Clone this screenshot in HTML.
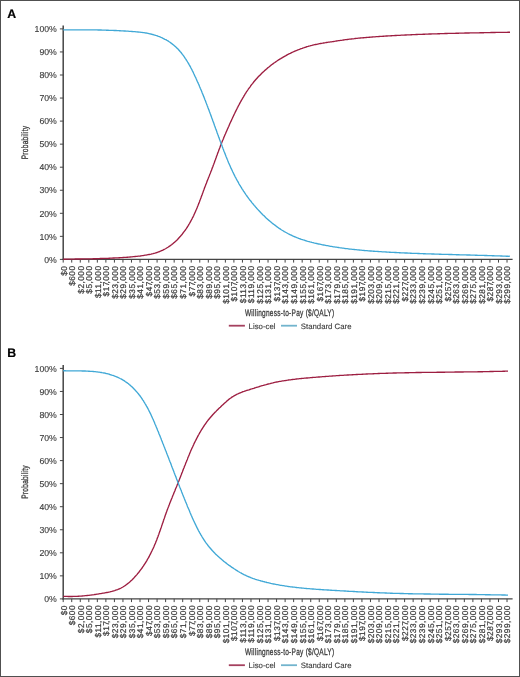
<!DOCTYPE html>
<html><head><meta charset="utf-8"><style>
html,body{margin:0;padding:0;background:#fff;}
body{width:520px;height:677px;overflow:hidden;}
svg{display:block;font-family:"Liberation Sans",sans-serif;will-change:transform;text-rendering:geometricPrecision;}
</style></head><body>
<svg width="520" height="677" viewBox="0 0 520 677">
<rect x="0" y="0" width="520" height="677" fill="#fff"/>
<text x="7.2" y="17.90" font-size="12.3" font-weight="bold" fill="#000" stroke="#000" stroke-width="0.2">A</text>
<line x1="63.2" y1="25.40" x2="63.2" y2="260.00" stroke="#454545" stroke-width="1.5"/>
<g stroke="#454545" stroke-width="1">
<line x1="59.90" y1="259.40" x2="63.2" y2="259.40"/>
<line x1="59.90" y1="236.35" x2="63.2" y2="236.35"/>
<line x1="59.90" y1="213.30" x2="63.2" y2="213.30"/>
<line x1="59.90" y1="190.25" x2="63.2" y2="190.25"/>
<line x1="59.90" y1="167.20" x2="63.2" y2="167.20"/>
<line x1="59.90" y1="144.15" x2="63.2" y2="144.15"/>
<line x1="59.90" y1="121.10" x2="63.2" y2="121.10"/>
<line x1="59.90" y1="98.05" x2="63.2" y2="98.05"/>
<line x1="59.90" y1="75.00" x2="63.2" y2="75.00"/>
<line x1="59.90" y1="51.95" x2="63.2" y2="51.95"/>
<line x1="59.90" y1="28.90" x2="63.2" y2="28.90"/>
</g>
<g font-size="8.7" text-anchor="end" fill="#3a3a3a" stroke="#3a3a3a" stroke-width="0.12">
<text x="56.8" y="262.61">0%</text>
<text x="56.8" y="239.56">10%</text>
<text x="56.8" y="216.51">20%</text>
<text x="56.8" y="193.46">30%</text>
<text x="56.8" y="170.41">40%</text>
<text x="56.8" y="147.36">50%</text>
<text x="56.8" y="124.31">60%</text>
<text x="56.8" y="101.26">70%</text>
<text x="56.8" y="78.21">80%</text>
<text x="56.8" y="55.16">90%</text>
<text x="56.8" y="32.11">100%</text>
</g>
<line x1="62.45" y1="259.40" x2="512.6" y2="259.40" stroke="#454545" stroke-width="1.3"/>
<g stroke="#454545" stroke-width="1">
<line x1="63.20" y1="259.40" x2="63.20" y2="262.60"/>
<line x1="71.73" y1="259.40" x2="71.73" y2="262.60"/>
<line x1="80.27" y1="259.40" x2="80.27" y2="262.60"/>
<line x1="88.81" y1="259.40" x2="88.81" y2="262.60"/>
<line x1="97.34" y1="259.40" x2="97.34" y2="262.60"/>
<line x1="105.88" y1="259.40" x2="105.88" y2="262.60"/>
<line x1="114.41" y1="259.40" x2="114.41" y2="262.60"/>
<line x1="122.95" y1="259.40" x2="122.95" y2="262.60"/>
<line x1="131.48" y1="259.40" x2="131.48" y2="262.60"/>
<line x1="140.01" y1="259.40" x2="140.01" y2="262.60"/>
<line x1="148.55" y1="259.40" x2="148.55" y2="262.60"/>
<line x1="157.09" y1="259.40" x2="157.09" y2="262.60"/>
<line x1="165.62" y1="259.40" x2="165.62" y2="262.60"/>
<line x1="174.16" y1="259.40" x2="174.16" y2="262.60"/>
<line x1="182.69" y1="259.40" x2="182.69" y2="262.60"/>
<line x1="191.23" y1="259.40" x2="191.23" y2="262.60"/>
<line x1="199.76" y1="259.40" x2="199.76" y2="262.60"/>
<line x1="208.30" y1="259.40" x2="208.30" y2="262.60"/>
<line x1="216.83" y1="259.40" x2="216.83" y2="262.60"/>
<line x1="225.37" y1="259.40" x2="225.37" y2="262.60"/>
<line x1="233.90" y1="259.40" x2="233.90" y2="262.60"/>
<line x1="242.44" y1="259.40" x2="242.44" y2="262.60"/>
<line x1="250.97" y1="259.40" x2="250.97" y2="262.60"/>
<line x1="259.50" y1="259.40" x2="259.50" y2="262.60"/>
<line x1="268.04" y1="259.40" x2="268.04" y2="262.60"/>
<line x1="276.57" y1="259.40" x2="276.57" y2="262.60"/>
<line x1="285.11" y1="259.40" x2="285.11" y2="262.60"/>
<line x1="293.64" y1="259.40" x2="293.64" y2="262.60"/>
<line x1="302.18" y1="259.40" x2="302.18" y2="262.60"/>
<line x1="310.72" y1="259.40" x2="310.72" y2="262.60"/>
<line x1="319.25" y1="259.40" x2="319.25" y2="262.60"/>
<line x1="327.78" y1="259.40" x2="327.78" y2="262.60"/>
<line x1="336.32" y1="259.40" x2="336.32" y2="262.60"/>
<line x1="344.86" y1="259.40" x2="344.86" y2="262.60"/>
<line x1="353.39" y1="259.40" x2="353.39" y2="262.60"/>
<line x1="361.93" y1="259.40" x2="361.93" y2="262.60"/>
<line x1="370.46" y1="259.40" x2="370.46" y2="262.60"/>
<line x1="379.00" y1="259.40" x2="379.00" y2="262.60"/>
<line x1="387.53" y1="259.40" x2="387.53" y2="262.60"/>
<line x1="396.06" y1="259.40" x2="396.06" y2="262.60"/>
<line x1="404.60" y1="259.40" x2="404.60" y2="262.60"/>
<line x1="413.13" y1="259.40" x2="413.13" y2="262.60"/>
<line x1="421.67" y1="259.40" x2="421.67" y2="262.60"/>
<line x1="430.20" y1="259.40" x2="430.20" y2="262.60"/>
<line x1="438.74" y1="259.40" x2="438.74" y2="262.60"/>
<line x1="447.27" y1="259.40" x2="447.27" y2="262.60"/>
<line x1="455.81" y1="259.40" x2="455.81" y2="262.60"/>
<line x1="464.34" y1="259.40" x2="464.34" y2="262.60"/>
<line x1="472.88" y1="259.40" x2="472.88" y2="262.60"/>
<line x1="481.42" y1="259.40" x2="481.42" y2="262.60"/>
<line x1="489.95" y1="259.40" x2="489.95" y2="262.60"/>
<line x1="498.49" y1="259.40" x2="498.49" y2="262.60"/>
<line x1="507.02" y1="259.40" x2="507.02" y2="262.60"/>
</g>
<g font-size="8.3" letter-spacing="0.45" text-anchor="end" fill="#3a3a3a" stroke="#3a3a3a" stroke-width="0.22">
<text transform="translate(66.52,265.55) rotate(-90)">$0</text>
<text transform="translate(75.06,265.55) rotate(-90)">$600</text>
<text transform="translate(83.59,265.55) rotate(-90)">$2,000</text>
<text transform="translate(92.13,265.55) rotate(-90)">$5,000</text>
<text transform="translate(100.66,265.55) rotate(-90)">$11,000</text>
<text transform="translate(109.20,265.55) rotate(-90)">$17<tspan dx="-2.3">,000</tspan></text>
<text transform="translate(117.73,265.55) rotate(-90)">$23,000</text>
<text transform="translate(126.27,265.55) rotate(-90)">$29,000</text>
<text transform="translate(134.80,265.55) rotate(-90)">$35,000</text>
<text transform="translate(143.34,265.55) rotate(-90)">$41,000</text>
<text transform="translate(151.87,265.55) rotate(-90)">$47<tspan dx="-2.3">,000</tspan></text>
<text transform="translate(160.41,265.55) rotate(-90)">$53,000</text>
<text transform="translate(168.94,265.55) rotate(-90)">$59,000</text>
<text transform="translate(177.48,265.55) rotate(-90)">$65,000</text>
<text transform="translate(186.01,265.55) rotate(-90)">$71,000</text>
<text transform="translate(194.55,265.55) rotate(-90)">$77<tspan dx="-2.3">,000</tspan></text>
<text transform="translate(203.08,265.55) rotate(-90)">$83,000</text>
<text transform="translate(211.62,265.55) rotate(-90)">$89,000</text>
<text transform="translate(220.15,265.55) rotate(-90)">$95,000</text>
<text transform="translate(228.69,265.55) rotate(-90)">$101,000</text>
<text transform="translate(237.22,265.55) rotate(-90)">$107<tspan dx="-2.3">,000</tspan></text>
<text transform="translate(245.76,265.55) rotate(-90)">$113,000</text>
<text transform="translate(254.29,265.55) rotate(-90)">$119,000</text>
<text transform="translate(262.83,265.55) rotate(-90)">$125,000</text>
<text transform="translate(271.36,265.55) rotate(-90)">$131,000</text>
<text transform="translate(279.90,265.55) rotate(-90)">$137<tspan dx="-2.3">,000</tspan></text>
<text transform="translate(288.43,265.55) rotate(-90)">$143,000</text>
<text transform="translate(296.97,265.55) rotate(-90)">$149,000</text>
<text transform="translate(305.50,265.55) rotate(-90)">$155,000</text>
<text transform="translate(314.04,265.55) rotate(-90)">$161,000</text>
<text transform="translate(322.57,265.55) rotate(-90)">$167<tspan dx="-2.3">,000</tspan></text>
<text transform="translate(331.11,265.55) rotate(-90)">$173,000</text>
<text transform="translate(339.64,265.55) rotate(-90)">$179,000</text>
<text transform="translate(348.18,265.55) rotate(-90)">$185,000</text>
<text transform="translate(356.71,265.55) rotate(-90)">$191,000</text>
<text transform="translate(365.25,265.55) rotate(-90)">$197<tspan dx="-2.3">,000</tspan></text>
<text transform="translate(373.78,265.55) rotate(-90)">$203,000</text>
<text transform="translate(382.32,265.55) rotate(-90)">$209,000</text>
<text transform="translate(390.85,265.55) rotate(-90)">$215,000</text>
<text transform="translate(399.39,265.55) rotate(-90)">$221,000</text>
<text transform="translate(407.92,265.55) rotate(-90)">$227<tspan dx="-2.3">,000</tspan></text>
<text transform="translate(416.46,265.55) rotate(-90)">$233,000</text>
<text transform="translate(424.99,265.55) rotate(-90)">$239,000</text>
<text transform="translate(433.53,265.55) rotate(-90)">$245,000</text>
<text transform="translate(442.06,265.55) rotate(-90)">$251,000</text>
<text transform="translate(450.60,265.55) rotate(-90)">$257<tspan dx="-2.3">,000</tspan></text>
<text transform="translate(459.13,265.55) rotate(-90)">$263,000</text>
<text transform="translate(467.67,265.55) rotate(-90)">$269,000</text>
<text transform="translate(476.20,265.55) rotate(-90)">$275,000</text>
<text transform="translate(484.74,265.55) rotate(-90)">$281,000</text>
<text transform="translate(493.27,265.55) rotate(-90)">$287<tspan dx="-2.3">,000</tspan></text>
<text transform="translate(501.81,265.55) rotate(-90)">$293,000</text>
<text transform="translate(510.34,265.55) rotate(-90)">$299,000</text>
</g>
<text transform="translate(27.8,142.50) rotate(-90) scale(0.70,1)" font-size="9.4" letter-spacing="0.38" text-anchor="middle" fill="#3a3a3a" stroke="#3a3a3a" stroke-width="0.3">Probability</text>
<text transform="translate(244.9,315.50) scale(0.68,1)" font-size="9.6" letter-spacing="0.38" fill="#3a3a3a" stroke="#3a3a3a" stroke-width="0.3">Willingness-to-Pay ($/QALY)</text>
<line x1="228.8" y1="325.70" x2="244.9" y2="325.70" stroke="#A5415F" stroke-width="1.8"/>
<text x="248.6" y="328.70" font-size="7.8" fill="#3a3a3a" stroke="#3a3a3a" stroke-width="0.12">Liso-cel</text>
<line x1="281.0" y1="325.70" x2="297.0" y2="325.70" stroke="#72B4CD" stroke-width="1.8"/>
<text x="300.8" y="328.70" font-size="7.8" fill="#3a3a3a" stroke="#3a3a3a" stroke-width="0.12">Standard Care</text>
<path d="M63.2 259.2 64.2 259.2 65.2 259.2 66.2 259.2 67.2 259.1 68.2 259.1 69.2 259.1 70.2 259.1 71.2 259.1 72.2 259.1 73.2 259.1 74.2 259.1 75.2 259.0 76.2 259.0 77.2 259.0 78.2 259.0 79.2 259.0 80.2 259.0 81.2 259.0 82.2 258.9 83.2 258.9 84.2 258.9 85.2 258.9 86.2 258.9 87.2 258.9 88.2 258.8 89.2 258.8 90.2 258.8 91.2 258.8 92.2 258.8 93.2 258.7 94.2 258.7 95.2 258.7 96.2 258.7 97.2 258.6 98.2 258.6 99.2 258.6 100.2 258.5 101.2 258.5 102.2 258.5 103.1 258.4 104.1 258.4 105.1 258.4 106.1 258.3 107.1 258.3 108.1 258.3 109.1 258.2 110.1 258.2 111.1 258.1 112.1 258.1 113.1 258.0 114.1 258.0 115.1 257.9 116.1 257.9 117.1 257.8 118.1 257.8 119.1 257.7 120.1 257.7 121.1 257.6 122.1 257.6 123.1 257.5 124.1 257.4 125.1 257.4 126.1 257.3 127.1 257.2 128.1 257.2 129.1 257.1 130.1 257.0 131.1 256.9 132.1 256.8 133.1 256.7 134.1 256.6 135.1 256.5 136.1 256.4 137.1 256.3 138.1 256.2 139.1 256.1 140.1 256.0 141.1 255.8 142.1 255.7 143.1 255.6 144.1 255.4 145.1 255.2 146.1 255.1 147.1 254.9 148.1 254.7 149.1 254.5 150.1 254.3 151.1 254.1 152.0 253.8 153.0 253.6 154.0 253.3 154.9 253.1 155.9 252.8 156.9 252.5 157.8 252.2 158.7 251.8 159.7 251.5 160.6 251.1 161.5 250.7 162.4 250.3 163.3 249.9 164.2 249.4 165.0 249.0 165.9 248.5 166.7 248.0 167.5 247.5 168.4 247.0 169.2 246.4 170.0 245.9 170.8 245.3 171.6 244.7 172.3 244.1 173.1 243.5 173.9 242.8 174.6 242.2 175.3 241.5 176.0 240.9 176.8 240.2 177.5 239.5 178.2 238.8 178.8 238.0 179.5 237.3 180.2 236.6 180.8 235.8 181.5 235.1 182.1 234.3 182.7 233.5 183.3 232.7 183.9 231.9 184.5 231.1 185.1 230.3 185.7 229.5 186.3 228.6 186.8 227.8 187.4 227.0 187.9 226.1 188.4 225.3 188.9 224.4 189.5 223.5 190.0 222.7 190.4 221.8 190.9 220.9 191.4 220.0 191.9 219.1 192.3 218.2 192.8 217.4 193.2 216.5 193.7 215.6 194.1 214.6 194.5 213.7 194.9 212.8 195.3 211.9 195.7 211.0 196.1 210.1 196.5 209.2 196.9 208.2 197.3 207.3 197.6 206.4 198.0 205.5 198.4 204.5 198.8 203.6 199.1 202.7 199.5 201.7 199.8 200.8 200.2 199.8 200.5 198.9 200.9 198.0 201.2 197.0 201.6 196.1 201.9 195.2 202.3 194.2 202.6 193.3 203.0 192.3 203.3 191.4 203.6 190.5 204.0 189.5 204.3 188.6 204.7 187.6 205.0 186.7 205.4 185.8 205.7 184.8 206.1 183.9 206.5 183.0 206.8 182.0 207.2 181.1 207.5 180.2 207.9 179.2 208.3 178.3 208.6 177.4 209.0 176.5 209.4 175.5 209.7 174.6 210.1 173.7 210.5 172.7 210.8 171.8 211.2 170.9 211.6 170.0 211.9 169.0 212.3 168.1 212.6 167.2 213.0 166.2 213.3 165.3 213.7 164.4 214.0 163.4 214.4 162.5 214.7 161.5 215.0 160.6 215.4 159.7 215.7 158.7 216.1 157.8 216.4 156.8 216.7 155.9 217.1 155.0 217.4 154.0 217.8 153.1 218.1 152.2 218.5 151.2 218.8 150.3 219.1 149.4 219.5 148.4 219.9 147.5 220.2 146.6 220.6 145.6 220.9 144.7 221.3 143.8 221.7 142.9 222.0 141.9 222.4 141.0 222.8 140.1 223.2 139.2 223.6 138.2 223.9 137.3 224.3 136.4 224.7 135.5 225.1 134.6 225.5 133.7 225.9 132.7 226.3 131.8 226.7 130.9 227.1 130.0 227.5 129.1 227.9 128.2 228.3 127.3 228.7 126.4 229.1 125.4 229.5 124.5 229.9 123.6 230.3 122.7 230.7 121.8 231.2 120.9 231.6 120.0 232.0 119.1 232.4 118.2 232.8 117.2 233.3 116.3 233.7 115.4 234.1 114.5 234.6 113.6 235.0 112.7 235.4 111.8 235.9 110.9 236.3 110.0 236.8 109.1 237.2 108.2 237.7 107.3 238.1 106.4 238.6 105.5 239.1 104.6 239.5 103.8 240.0 102.9 240.5 102.0 241.0 101.1 241.5 100.2 242.0 99.4 242.5 98.5 243.0 97.6 243.5 96.8 244.0 95.9 244.5 95.1 245.0 94.2 245.6 93.4 246.1 92.5 246.6 91.7 247.2 90.9 247.8 90.0 248.3 89.2 248.9 88.4 249.5 87.6 250.1 86.8 250.6 86.0 251.2 85.2 251.8 84.4 252.5 83.6 253.1 82.8 253.7 82.0 254.3 81.3 255.0 80.5 255.6 79.8 256.3 79.0 257.0 78.3 257.6 77.5 258.3 76.8 259.0 76.1 259.7 75.4 260.4 74.7 261.1 74.0 261.8 73.3 262.5 72.6 263.2 71.9 264.0 71.2 264.7 70.5 265.5 69.9 266.2 69.2 267.0 68.6 267.7 67.9 268.5 67.3 269.3 66.7 270.1 66.0 270.8 65.4 271.6 64.8 272.4 64.2 273.2 63.6 274.0 63.0 274.8 62.5 275.7 61.9 276.5 61.3 277.3 60.8 278.1 60.2 279.0 59.7 279.8 59.1 280.7 58.6 281.5 58.1 282.4 57.6 283.2 57.1 284.1 56.6 285.0 56.1 285.9 55.6 286.7 55.1 287.6 54.6 288.5 54.2 289.4 53.7 290.3 53.3 291.2 52.8 292.1 52.4 293.0 52.0 293.9 51.6 294.8 51.2 295.7 50.8 296.7 50.4 297.6 50.0 298.5 49.7 299.5 49.3 300.4 48.9 301.3 48.6 302.3 48.3 303.2 47.9 304.2 47.6 305.1 47.3 306.1 47.0 307.0 46.7 308.0 46.4 308.9 46.1 309.9 45.9 310.9 45.6 311.8 45.4 312.8 45.1 313.8 44.9 314.7 44.7 315.7 44.5 316.7 44.3 317.7 44.1 318.7 43.9 319.6 43.7 320.6 43.5 321.6 43.3 322.6 43.2 323.6 43.0 324.6 42.8 325.5 42.7 326.5 42.5 327.5 42.4 328.5 42.2 329.5 42.1 330.5 41.9 331.5 41.8 332.5 41.6 333.5 41.5 334.4 41.3 335.4 41.2 336.4 41.0 337.4 40.9 338.4 40.7 339.4 40.6 340.4 40.4 341.4 40.3 342.4 40.2 343.4 40.0 344.3 39.9 345.3 39.7 346.3 39.6 347.3 39.5 348.3 39.4 349.3 39.2 350.3 39.1 351.3 39.0 352.3 38.9 353.3 38.8 354.3 38.7 355.2 38.5 356.2 38.4 357.2 38.3 358.2 38.2 359.2 38.1 360.2 38.0 361.2 37.9 362.2 37.8 363.2 37.7 364.2 37.7 365.2 37.6 366.2 37.5 367.2 37.4 368.2 37.3 369.2 37.2 370.2 37.2 371.2 37.1 372.2 37.0 373.2 36.9 374.2 36.8 375.1 36.8 376.1 36.7 377.1 36.6 378.1 36.6 379.1 36.5 380.1 36.4 381.1 36.4 382.1 36.3 383.1 36.2 384.1 36.2 385.1 36.1 386.1 36.0 387.1 36.0 388.1 35.9 389.1 35.9 390.1 35.8 391.1 35.7 392.1 35.7 393.1 35.6 394.1 35.6 395.1 35.5 396.1 35.5 397.1 35.4 398.1 35.4 399.1 35.3 400.1 35.3 401.1 35.2 402.1 35.1 403.1 35.1 404.1 35.1 405.1 35.0 406.1 35.0 407.1 34.9 408.1 34.9 409.1 34.8 410.1 34.8 411.1 34.7 412.1 34.7 413.1 34.6 414.1 34.6 415.1 34.6 416.1 34.5 417.1 34.5 418.1 34.4 419.1 34.4 420.1 34.4 421.1 34.3 422.1 34.3 423.1 34.2 424.1 34.2 425.1 34.2 426.1 34.1 427.0 34.1 428.0 34.1 429.0 34.0 430.0 34.0 431.0 34.0 432.0 33.9 433.0 33.9 434.0 33.9 435.0 33.8 436.0 33.8 437.0 33.8 438.0 33.7 439.0 33.7 440.0 33.7 441.0 33.6 442.0 33.6 443.0 33.6 444.0 33.6 445.0 33.5 446.0 33.5 447.0 33.5 448.0 33.4 449.0 33.4 450.0 33.4 451.0 33.4 452.0 33.3 453.0 33.3 454.0 33.3 455.0 33.3 456.0 33.2 457.0 33.2 458.0 33.2 459.0 33.2 460.0 33.1 461.0 33.1 462.0 33.1 463.0 33.1 464.0 33.1 465.0 33.0 466.0 33.0 467.0 33.0 468.0 33.0 469.0 33.0 470.0 32.9 471.0 32.9 472.0 32.9 473.0 32.9 474.0 32.9 475.0 32.8 476.0 32.8 477.0 32.8 478.0 32.8 479.0 32.8 480.0 32.7 481.0 32.7 482.0 32.7 483.0 32.7 484.0 32.7 485.0 32.6 486.0 32.6 487.0 32.6 488.0 32.6 489.0 32.6 490.0 32.6 491.0 32.5 492.0 32.5 493.0 32.5 494.0 32.5 495.0 32.5 496.0 32.4 497.0 32.4 498.0 32.4 499.0 32.4 500.0 32.4 501.0 32.4 502.0 32.3 503.0 32.3 504.0 32.3 505.0 32.3 506.0 32.3 507.0 32.3 508.0 32.2 509.0 32.2 510.0 32.2" fill="none" stroke="#9D1E41" stroke-width="1.35" stroke-linejoin="round"/>
<path d="M63.2 29.8 64.2 29.8 65.2 29.8 66.2 29.8 67.2 29.8 68.2 29.8 69.2 29.8 70.2 29.8 71.2 29.8 72.2 29.8 73.2 29.8 74.2 29.8 75.2 29.8 76.2 29.8 77.2 29.8 78.2 29.8 79.2 29.8 80.2 29.8 81.2 29.8 82.2 29.8 83.2 29.8 84.2 29.8 85.2 29.8 86.2 29.8 87.2 29.8 88.2 29.8 89.2 29.8 90.2 29.8 91.2 29.8 92.2 29.9 93.2 29.9 94.2 29.9 95.2 29.9 96.2 29.9 97.1 29.9 98.1 30.0 99.1 30.0 100.1 30.0 101.1 30.0 102.1 30.1 103.1 30.1 104.1 30.1 105.1 30.1 106.1 30.2 107.1 30.2 108.1 30.2 109.1 30.3 110.1 30.3 111.1 30.3 112.1 30.4 113.1 30.4 114.1 30.5 115.1 30.5 116.1 30.5 117.1 30.6 118.1 30.6 119.1 30.7 120.1 30.7 121.1 30.8 122.1 30.8 123.1 30.9 124.1 31.0 125.1 31.0 126.1 31.1 127.1 31.1 128.1 31.2 129.1 31.3 130.0 31.3 131.0 31.4 132.0 31.5 133.0 31.6 134.0 31.6 135.0 31.7 136.0 31.8 137.0 31.9 138.0 32.0 139.0 32.1 140.0 32.2 141.0 32.3 142.0 32.4 143.0 32.6 144.0 32.7 145.0 32.9 146.0 33.0 147.0 33.2 148.0 33.4 148.9 33.6 149.9 33.8 150.9 34.0 151.9 34.3 152.8 34.5 153.8 34.8 154.8 35.1 155.7 35.4 156.7 35.7 157.6 36.0 158.5 36.4 159.5 36.7 160.4 37.1 161.3 37.5 162.2 37.9 163.1 38.4 164.0 38.8 164.9 39.3 165.8 39.7 166.7 40.2 167.5 40.7 168.4 41.2 169.2 41.8 170.0 42.3 170.8 42.9 171.6 43.5 172.4 44.1 173.2 44.7 173.9 45.3 174.6 45.9 175.4 46.6 176.1 47.2 176.8 47.9 177.5 48.6 178.2 49.3 178.8 50.0 179.5 50.8 180.1 51.5 180.8 52.2 181.4 53.0 182.0 53.8 182.6 54.6 183.2 55.3 183.8 56.1 184.3 56.9 184.9 57.8 185.4 58.6 186.0 59.4 186.5 60.3 187.1 61.1 187.6 62.0 188.1 62.8 188.6 63.7 189.1 64.6 189.6 65.4 190.1 66.3 190.6 67.2 191.0 68.1 191.5 69.0 192.0 69.9 192.4 70.8 192.9 71.7 193.3 72.6 193.7 73.5 194.2 74.5 194.6 75.4 195.0 76.3 195.5 77.2 195.9 78.1 196.3 79.1 196.7 80.0 197.1 80.9 197.5 81.8 198.0 82.7 198.4 83.7 198.8 84.6 199.2 85.5 199.5 86.4 199.9 87.3 200.3 88.3 200.7 89.2 201.1 90.1 201.5 91.0 201.9 92.0 202.2 92.9 202.6 93.8 203.0 94.7 203.4 95.7 203.7 96.6 204.1 97.5 204.5 98.5 204.8 99.4 205.2 100.3 205.6 101.2 205.9 102.2 206.3 103.1 206.6 104.0 207.0 104.9 207.3 105.9 207.7 106.8 208.0 107.7 208.4 108.7 208.7 109.6 209.1 110.5 209.4 111.5 209.8 112.4 210.1 113.3 210.5 114.3 210.8 115.2 211.1 116.1 211.5 117.0 211.8 118.0 212.2 118.9 212.5 119.8 212.8 120.8 213.2 121.7 213.5 122.6 213.9 123.6 214.2 124.5 214.5 125.5 214.9 126.4 215.2 127.3 215.5 128.3 215.9 129.2 216.2 130.1 216.6 131.1 216.9 132.0 217.2 132.9 217.6 133.9 217.9 134.8 218.3 135.7 218.6 136.7 218.9 137.6 219.3 138.6 219.6 139.5 220.0 140.4 220.3 141.4 220.7 142.3 221.0 143.2 221.4 144.2 221.7 145.1 222.1 146.1 222.4 147.0 222.8 147.9 223.1 148.9 223.5 149.8 223.8 150.7 224.2 151.7 224.6 152.6 224.9 153.6 225.3 154.5 225.7 155.4 226.0 156.4 226.4 157.3 226.8 158.2 227.2 159.2 227.6 160.1 227.9 161.0 228.3 161.9 228.7 162.9 229.1 163.8 229.5 164.7 229.9 165.6 230.3 166.5 230.7 167.4 231.1 168.4 231.6 169.3 232.0 170.2 232.4 171.1 232.8 172.0 233.3 172.9 233.7 173.8 234.1 174.7 234.6 175.6 235.0 176.5 235.5 177.4 236.0 178.2 236.4 179.1 236.9 180.0 237.4 180.9 237.9 181.7 238.4 182.6 238.8 183.5 239.3 184.3 239.8 185.2 240.4 186.0 240.9 186.9 241.4 187.7 241.9 188.6 242.4 189.4 243.0 190.2 243.5 191.1 244.1 191.9 244.6 192.7 245.2 193.5 245.7 194.3 246.3 195.2 246.9 196.0 247.5 196.8 248.1 197.6 248.6 198.4 249.2 199.2 249.8 200.0 250.5 200.7 251.1 201.5 251.7 202.3 252.3 203.1 252.9 203.8 253.6 204.6 254.2 205.4 254.9 206.1 255.5 206.9 256.2 207.6 256.8 208.4 257.5 209.1 258.2 209.9 258.8 210.6 259.5 211.3 260.2 212.0 260.9 212.8 261.6 213.5 262.3 214.2 263.0 214.9 263.8 215.6 264.5 216.3 265.2 217.0 265.9 217.7 266.7 218.4 267.4 219.1 268.2 219.7 268.9 220.4 269.7 221.0 270.5 221.7 271.2 222.3 272.0 223.0 272.8 223.6 273.6 224.2 274.4 224.8 275.2 225.4 276.0 226.0 276.8 226.6 277.6 227.2 278.4 227.8 279.2 228.4 280.1 228.9 280.9 229.5 281.7 230.0 282.6 230.5 283.4 231.0 284.3 231.6 285.1 232.0 286.0 232.5 286.9 233.0 287.8 233.5 288.6 233.9 289.5 234.4 290.4 234.8 291.3 235.2 292.2 235.7 293.1 236.1 294.0 236.5 294.9 236.8 295.8 237.2 296.8 237.6 297.7 237.9 298.6 238.3 299.5 238.6 300.5 239.0 301.4 239.3 302.4 239.6 303.3 239.9 304.3 240.2 305.2 240.5 306.2 240.8 307.1 241.1 308.1 241.4 309.0 241.6 310.0 241.9 311.0 242.1 311.9 242.4 312.9 242.6 313.9 242.9 314.8 243.1 315.8 243.3 316.8 243.5 317.8 243.8 318.7 244.0 319.7 244.2 320.7 244.4 321.7 244.6 322.6 244.8 323.6 245.0 324.6 245.2 325.6 245.4 326.6 245.6 327.5 245.7 328.5 245.9 329.5 246.1 330.5 246.3 331.5 246.4 332.5 246.6 333.4 246.8 334.4 246.9 335.4 247.1 336.4 247.2 337.4 247.4 338.4 247.5 339.4 247.7 340.4 247.8 341.3 247.9 342.3 248.1 343.3 248.2 344.3 248.3 345.3 248.5 346.3 248.6 347.3 248.7 348.3 248.8 349.3 249.0 350.2 249.1 351.2 249.2 352.2 249.3 353.2 249.4 354.2 249.5 355.2 249.6 356.2 249.7 357.2 249.8 358.2 249.9 359.2 250.0 360.2 250.1 361.2 250.2 362.2 250.3 363.2 250.4 364.1 250.5 365.1 250.6 366.1 250.6 367.1 250.7 368.1 250.8 369.1 250.9 370.1 251.0 371.1 251.0 372.1 251.1 373.1 251.2 374.1 251.2 375.1 251.3 376.1 251.4 377.1 251.4 378.1 251.5 379.1 251.6 380.1 251.6 381.1 251.7 382.1 251.8 383.1 251.8 384.1 251.9 385.1 251.9 386.1 252.0 387.1 252.1 388.1 252.1 389.1 252.2 390.0 252.2 391.0 252.3 392.0 252.3 393.0 252.4 394.0 252.4 395.0 252.5 396.0 252.5 397.0 252.6 398.0 252.6 399.0 252.7 400.0 252.7 401.0 252.8 402.0 252.8 403.0 252.9 404.0 252.9 405.0 253.0 406.0 253.0 407.0 253.0 408.0 253.1 409.0 253.1 410.0 253.2 411.0 253.2 412.0 253.3 413.0 253.3 414.0 253.3 415.0 253.4 416.0 253.4 417.0 253.4 418.0 253.5 419.0 253.5 420.0 253.6 421.0 253.6 422.0 253.6 423.0 253.7 424.0 253.7 425.0 253.7 426.0 253.8 427.0 253.8 428.0 253.8 429.0 253.9 430.0 253.9 431.0 253.9 431.9 254.0 432.9 254.0 433.9 254.0 434.9 254.1 435.9 254.1 436.9 254.1 437.9 254.1 438.9 254.2 439.9 254.2 440.9 254.2 441.9 254.3 442.9 254.3 443.9 254.3 444.9 254.4 445.9 254.4 446.9 254.4 447.9 254.4 448.9 254.5 449.9 254.5 450.9 254.5 451.9 254.5 452.9 254.6 453.9 254.6 454.9 254.6 455.9 254.7 456.9 254.7 457.9 254.7 458.9 254.7 459.9 254.8 460.9 254.8 461.9 254.8 462.9 254.8 463.9 254.9 464.9 254.9 465.9 254.9 466.9 255.0 467.9 255.0 468.9 255.0 469.9 255.0 470.9 255.1 471.9 255.1 472.9 255.1 473.9 255.1 474.9 255.2 475.9 255.2 476.9 255.2 477.9 255.3 478.9 255.3 479.9 255.3 480.9 255.3 481.9 255.4 482.9 255.4 483.9 255.4 484.8 255.5 485.8 255.5 486.8 255.5 487.8 255.6 488.8 255.6 489.8 255.6 490.8 255.6 491.8 255.7 492.8 255.7 493.8 255.7 494.8 255.8 495.8 255.8 496.8 255.8 497.8 255.9 498.8 255.9 499.8 255.9 500.8 256.0 501.8 256.0 502.8 256.1 503.8 256.1 504.8 256.1 505.8 256.2 506.8 256.2 507.8 256.2 508.8 256.3 509.8 256.3" fill="none" stroke="#40A8D6" stroke-width="1.35" stroke-linejoin="round"/>
<text x="7.2" y="357.40" font-size="12.3" font-weight="bold" fill="#000" stroke="#000" stroke-width="0.2">B</text>
<line x1="63.2" y1="364.90" x2="63.2" y2="599.50" stroke="#454545" stroke-width="1.5"/>
<g stroke="#454545" stroke-width="1">
<line x1="59.90" y1="598.90" x2="63.2" y2="598.90"/>
<line x1="59.90" y1="575.85" x2="63.2" y2="575.85"/>
<line x1="59.90" y1="552.80" x2="63.2" y2="552.80"/>
<line x1="59.90" y1="529.75" x2="63.2" y2="529.75"/>
<line x1="59.90" y1="506.70" x2="63.2" y2="506.70"/>
<line x1="59.90" y1="483.65" x2="63.2" y2="483.65"/>
<line x1="59.90" y1="460.60" x2="63.2" y2="460.60"/>
<line x1="59.90" y1="437.55" x2="63.2" y2="437.55"/>
<line x1="59.90" y1="414.50" x2="63.2" y2="414.50"/>
<line x1="59.90" y1="391.45" x2="63.2" y2="391.45"/>
<line x1="59.90" y1="368.40" x2="63.2" y2="368.40"/>
</g>
<g font-size="8.7" text-anchor="end" fill="#3a3a3a" stroke="#3a3a3a" stroke-width="0.12">
<text x="56.8" y="602.11">0%</text>
<text x="56.8" y="579.06">10%</text>
<text x="56.8" y="556.01">20%</text>
<text x="56.8" y="532.96">30%</text>
<text x="56.8" y="509.91">40%</text>
<text x="56.8" y="486.86">50%</text>
<text x="56.8" y="463.81">60%</text>
<text x="56.8" y="440.76">70%</text>
<text x="56.8" y="417.71">80%</text>
<text x="56.8" y="394.66">90%</text>
<text x="56.8" y="371.61">100%</text>
</g>
<line x1="62.45" y1="598.90" x2="512.6" y2="598.90" stroke="#454545" stroke-width="1.3"/>
<g stroke="#454545" stroke-width="1">
<line x1="63.20" y1="598.90" x2="63.20" y2="602.10"/>
<line x1="71.73" y1="598.90" x2="71.73" y2="602.10"/>
<line x1="80.27" y1="598.90" x2="80.27" y2="602.10"/>
<line x1="88.81" y1="598.90" x2="88.81" y2="602.10"/>
<line x1="97.34" y1="598.90" x2="97.34" y2="602.10"/>
<line x1="105.88" y1="598.90" x2="105.88" y2="602.10"/>
<line x1="114.41" y1="598.90" x2="114.41" y2="602.10"/>
<line x1="122.95" y1="598.90" x2="122.95" y2="602.10"/>
<line x1="131.48" y1="598.90" x2="131.48" y2="602.10"/>
<line x1="140.01" y1="598.90" x2="140.01" y2="602.10"/>
<line x1="148.55" y1="598.90" x2="148.55" y2="602.10"/>
<line x1="157.09" y1="598.90" x2="157.09" y2="602.10"/>
<line x1="165.62" y1="598.90" x2="165.62" y2="602.10"/>
<line x1="174.16" y1="598.90" x2="174.16" y2="602.10"/>
<line x1="182.69" y1="598.90" x2="182.69" y2="602.10"/>
<line x1="191.23" y1="598.90" x2="191.23" y2="602.10"/>
<line x1="199.76" y1="598.90" x2="199.76" y2="602.10"/>
<line x1="208.30" y1="598.90" x2="208.30" y2="602.10"/>
<line x1="216.83" y1="598.90" x2="216.83" y2="602.10"/>
<line x1="225.37" y1="598.90" x2="225.37" y2="602.10"/>
<line x1="233.90" y1="598.90" x2="233.90" y2="602.10"/>
<line x1="242.44" y1="598.90" x2="242.44" y2="602.10"/>
<line x1="250.97" y1="598.90" x2="250.97" y2="602.10"/>
<line x1="259.50" y1="598.90" x2="259.50" y2="602.10"/>
<line x1="268.04" y1="598.90" x2="268.04" y2="602.10"/>
<line x1="276.57" y1="598.90" x2="276.57" y2="602.10"/>
<line x1="285.11" y1="598.90" x2="285.11" y2="602.10"/>
<line x1="293.64" y1="598.90" x2="293.64" y2="602.10"/>
<line x1="302.18" y1="598.90" x2="302.18" y2="602.10"/>
<line x1="310.72" y1="598.90" x2="310.72" y2="602.10"/>
<line x1="319.25" y1="598.90" x2="319.25" y2="602.10"/>
<line x1="327.78" y1="598.90" x2="327.78" y2="602.10"/>
<line x1="336.32" y1="598.90" x2="336.32" y2="602.10"/>
<line x1="344.86" y1="598.90" x2="344.86" y2="602.10"/>
<line x1="353.39" y1="598.90" x2="353.39" y2="602.10"/>
<line x1="361.93" y1="598.90" x2="361.93" y2="602.10"/>
<line x1="370.46" y1="598.90" x2="370.46" y2="602.10"/>
<line x1="379.00" y1="598.90" x2="379.00" y2="602.10"/>
<line x1="387.53" y1="598.90" x2="387.53" y2="602.10"/>
<line x1="396.06" y1="598.90" x2="396.06" y2="602.10"/>
<line x1="404.60" y1="598.90" x2="404.60" y2="602.10"/>
<line x1="413.13" y1="598.90" x2="413.13" y2="602.10"/>
<line x1="421.67" y1="598.90" x2="421.67" y2="602.10"/>
<line x1="430.20" y1="598.90" x2="430.20" y2="602.10"/>
<line x1="438.74" y1="598.90" x2="438.74" y2="602.10"/>
<line x1="447.27" y1="598.90" x2="447.27" y2="602.10"/>
<line x1="455.81" y1="598.90" x2="455.81" y2="602.10"/>
<line x1="464.34" y1="598.90" x2="464.34" y2="602.10"/>
<line x1="472.88" y1="598.90" x2="472.88" y2="602.10"/>
<line x1="481.42" y1="598.90" x2="481.42" y2="602.10"/>
<line x1="489.95" y1="598.90" x2="489.95" y2="602.10"/>
<line x1="498.49" y1="598.90" x2="498.49" y2="602.10"/>
<line x1="507.02" y1="598.90" x2="507.02" y2="602.10"/>
</g>
<g font-size="8.3" letter-spacing="0.45" text-anchor="end" fill="#3a3a3a" stroke="#3a3a3a" stroke-width="0.22">
<text transform="translate(66.52,605.05) rotate(-90)">$0</text>
<text transform="translate(75.06,605.05) rotate(-90)">$600</text>
<text transform="translate(83.59,605.05) rotate(-90)">$2,000</text>
<text transform="translate(92.13,605.05) rotate(-90)">$5,000</text>
<text transform="translate(100.66,605.05) rotate(-90)">$11,000</text>
<text transform="translate(109.20,605.05) rotate(-90)">$17<tspan dx="-2.3">,000</tspan></text>
<text transform="translate(117.73,605.05) rotate(-90)">$23,000</text>
<text transform="translate(126.27,605.05) rotate(-90)">$29,000</text>
<text transform="translate(134.80,605.05) rotate(-90)">$35,000</text>
<text transform="translate(143.34,605.05) rotate(-90)">$41,000</text>
<text transform="translate(151.87,605.05) rotate(-90)">$47<tspan dx="-2.3">,000</tspan></text>
<text transform="translate(160.41,605.05) rotate(-90)">$53,000</text>
<text transform="translate(168.94,605.05) rotate(-90)">$59,000</text>
<text transform="translate(177.48,605.05) rotate(-90)">$65,000</text>
<text transform="translate(186.01,605.05) rotate(-90)">$71,000</text>
<text transform="translate(194.55,605.05) rotate(-90)">$77<tspan dx="-2.3">,000</tspan></text>
<text transform="translate(203.08,605.05) rotate(-90)">$83,000</text>
<text transform="translate(211.62,605.05) rotate(-90)">$89,000</text>
<text transform="translate(220.15,605.05) rotate(-90)">$95,000</text>
<text transform="translate(228.69,605.05) rotate(-90)">$101,000</text>
<text transform="translate(237.22,605.05) rotate(-90)">$107<tspan dx="-2.3">,000</tspan></text>
<text transform="translate(245.76,605.05) rotate(-90)">$113,000</text>
<text transform="translate(254.29,605.05) rotate(-90)">$119,000</text>
<text transform="translate(262.83,605.05) rotate(-90)">$125,000</text>
<text transform="translate(271.36,605.05) rotate(-90)">$131,000</text>
<text transform="translate(279.90,605.05) rotate(-90)">$137<tspan dx="-2.3">,000</tspan></text>
<text transform="translate(288.43,605.05) rotate(-90)">$143,000</text>
<text transform="translate(296.97,605.05) rotate(-90)">$149,000</text>
<text transform="translate(305.50,605.05) rotate(-90)">$155,000</text>
<text transform="translate(314.04,605.05) rotate(-90)">$161,000</text>
<text transform="translate(322.57,605.05) rotate(-90)">$167<tspan dx="-2.3">,000</tspan></text>
<text transform="translate(331.11,605.05) rotate(-90)">$173,000</text>
<text transform="translate(339.64,605.05) rotate(-90)">$179,000</text>
<text transform="translate(348.18,605.05) rotate(-90)">$185,000</text>
<text transform="translate(356.71,605.05) rotate(-90)">$191,000</text>
<text transform="translate(365.25,605.05) rotate(-90)">$197<tspan dx="-2.3">,000</tspan></text>
<text transform="translate(373.78,605.05) rotate(-90)">$203,000</text>
<text transform="translate(382.32,605.05) rotate(-90)">$209,000</text>
<text transform="translate(390.85,605.05) rotate(-90)">$215,000</text>
<text transform="translate(399.39,605.05) rotate(-90)">$221,000</text>
<text transform="translate(407.92,605.05) rotate(-90)">$227<tspan dx="-2.3">,000</tspan></text>
<text transform="translate(416.46,605.05) rotate(-90)">$233,000</text>
<text transform="translate(424.99,605.05) rotate(-90)">$239,000</text>
<text transform="translate(433.53,605.05) rotate(-90)">$245,000</text>
<text transform="translate(442.06,605.05) rotate(-90)">$251,000</text>
<text transform="translate(450.60,605.05) rotate(-90)">$257<tspan dx="-2.3">,000</tspan></text>
<text transform="translate(459.13,605.05) rotate(-90)">$263,000</text>
<text transform="translate(467.67,605.05) rotate(-90)">$269,000</text>
<text transform="translate(476.20,605.05) rotate(-90)">$275,000</text>
<text transform="translate(484.74,605.05) rotate(-90)">$281,000</text>
<text transform="translate(493.27,605.05) rotate(-90)">$287<tspan dx="-2.3">,000</tspan></text>
<text transform="translate(501.81,605.05) rotate(-90)">$293,000</text>
<text transform="translate(510.34,605.05) rotate(-90)">$299,000</text>
</g>
<text transform="translate(27.8,482.00) rotate(-90) scale(0.70,1)" font-size="9.4" letter-spacing="0.38" text-anchor="middle" fill="#3a3a3a" stroke="#3a3a3a" stroke-width="0.3">Probability</text>
<text transform="translate(244.9,655.00) scale(0.68,1)" font-size="9.6" letter-spacing="0.38" fill="#3a3a3a" stroke="#3a3a3a" stroke-width="0.3">Willingness-to-Pay ($/QALY)</text>
<line x1="228.8" y1="665.20" x2="244.9" y2="665.20" stroke="#A5415F" stroke-width="1.8"/>
<text x="248.6" y="668.20" font-size="7.8" fill="#3a3a3a" stroke="#3a3a3a" stroke-width="0.12">Liso-cel</text>
<line x1="281.0" y1="665.20" x2="297.0" y2="665.20" stroke="#72B4CD" stroke-width="1.8"/>
<text x="300.8" y="668.20" font-size="7.8" fill="#3a3a3a" stroke="#3a3a3a" stroke-width="0.12">Standard Care</text>
<path d="M63.2 596.3 64.2 596.3 65.2 596.4 66.2 596.4 67.2 596.4 68.2 596.5 69.3 596.5 70.3 596.5 71.3 596.5 72.2 596.5 73.2 596.4 74.2 596.4 75.2 596.4 76.2 596.3 77.2 596.3 78.2 596.2 79.2 596.2 80.2 596.1 81.2 596.1 82.2 596.0 83.1 595.9 84.1 595.8 85.1 595.7 86.1 595.6 87.1 595.5 88.1 595.4 89.1 595.3 90.0 595.2 91.0 595.1 92.0 594.9 93.0 594.8 94.0 594.7 95.0 594.5 96.0 594.4 96.9 594.2 97.9 594.1 98.9 593.9 99.9 593.7 100.9 593.6 101.9 593.4 102.9 593.2 103.9 593.1 104.9 592.9 105.9 592.7 106.9 592.5 107.9 592.3 108.9 592.1 109.9 591.9 110.9 591.6 111.8 591.4 112.8 591.1 113.8 590.8 114.7 590.6 115.7 590.2 116.6 589.9 117.6 589.6 118.5 589.2 119.4 588.8 120.3 588.4 121.2 588.0 122.0 587.5 122.9 587.0 123.7 586.5 124.5 586.0 125.4 585.4 126.2 584.8 126.9 584.2 127.7 583.6 128.5 583.0 129.2 582.4 130.0 581.7 130.7 581.0 131.4 580.4 132.2 579.7 132.9 579.0 133.6 578.3 134.2 577.6 134.9 576.8 135.6 576.1 136.2 575.4 136.9 574.6 137.5 573.8 138.2 573.1 138.8 572.3 139.4 571.5 140.0 570.7 140.6 569.9 141.2 569.1 141.8 568.3 142.4 567.5 142.9 566.7 143.5 565.9 144.0 565.0 144.6 564.2 145.1 563.3 145.7 562.5 146.2 561.6 146.7 560.8 147.2 559.9 147.7 559.0 148.2 558.2 148.7 557.3 149.2 556.4 149.6 555.5 150.1 554.6 150.6 553.7 151.0 552.8 151.4 551.9 151.9 551.0 152.3 550.1 152.7 549.2 153.2 548.3 153.6 547.4 154.0 546.5 154.4 545.5 154.8 544.6 155.2 543.7 155.6 542.8 155.9 541.8 156.3 540.9 156.7 540.0 157.0 539.1 157.4 538.1 157.7 537.2 158.1 536.3 158.4 535.3 158.8 534.4 159.1 533.4 159.4 532.5 159.8 531.6 160.1 530.6 160.4 529.7 160.7 528.8 161.1 527.8 161.4 526.9 161.7 525.9 162.0 525.0 162.3 524.0 162.7 523.1 163.0 522.2 163.3 521.2 163.6 520.3 163.9 519.3 164.3 518.4 164.6 517.5 164.9 516.5 165.2 515.6 165.6 514.6 165.9 513.7 166.2 512.8 166.6 511.8 166.9 510.9 167.2 510.0 167.6 509.0 167.9 508.1 168.3 507.2 168.7 506.2 169.0 505.3 169.4 504.4 169.7 503.4 170.1 502.5 170.5 501.6 170.8 500.7 171.2 499.7 171.6 498.8 172.0 497.9 172.3 496.9 172.7 496.0 173.1 495.1 173.5 494.2 173.8 493.2 174.2 492.3 174.6 491.4 175.0 490.5 175.3 489.5 175.7 488.6 176.1 487.7 176.5 486.8 176.9 485.8 177.2 484.9 177.6 484.0 178.0 483.0 178.4 482.1 178.7 481.2 179.1 480.3 179.5 479.3 179.8 478.4 180.2 477.5 180.6 476.6 180.9 475.6 181.3 474.7 181.6 473.8 182.0 472.8 182.4 471.9 182.7 471.0 183.1 470.1 183.4 469.1 183.8 468.2 184.2 467.3 184.5 466.3 184.9 465.4 185.3 464.5 185.6 463.6 186.0 462.6 186.4 461.7 186.7 460.8 187.1 459.9 187.5 458.9 187.8 458.0 188.2 457.1 188.6 456.2 189.0 455.2 189.4 454.3 189.7 453.4 190.1 452.5 190.5 451.6 190.9 450.6 191.3 449.7 191.7 448.8 192.1 447.9 192.6 447.0 193.0 446.1 193.4 445.2 193.8 444.3 194.2 443.3 194.7 442.4 195.1 441.5 195.6 440.6 196.0 439.8 196.5 438.9 196.9 438.0 197.4 437.1 197.9 436.2 198.3 435.3 198.8 434.5 199.3 433.6 199.8 432.7 200.3 431.9 200.8 431.0 201.3 430.1 201.8 429.3 202.4 428.5 202.9 427.6 203.4 426.8 204.0 426.0 204.5 425.1 205.1 424.3 205.7 423.5 206.3 422.7 206.8 421.9 207.4 421.1 208.0 420.3 208.7 419.5 209.3 418.8 209.9 418.0 210.6 417.2 211.2 416.5 211.9 415.7 212.5 415.0 213.2 414.2 213.9 413.5 214.6 412.8 215.3 412.1 216.0 411.4 216.7 410.6 217.4 409.9 218.1 409.2 218.8 408.5 219.6 407.8 220.3 407.2 221.0 406.5 221.7 405.8 222.5 405.1 223.2 404.4 223.9 403.7 224.7 403.0 225.4 402.4 226.2 401.7 226.9 401.0 227.7 400.4 228.4 399.8 229.2 399.1 230.0 398.5 230.8 398.0 231.6 397.4 232.4 396.8 233.3 396.3 234.1 395.8 235.0 395.3 235.8 394.9 236.7 394.4 237.6 394.0 238.5 393.6 239.4 393.2 240.3 392.8 241.3 392.4 242.2 392.0 243.1 391.7 244.1 391.4 245.0 391.0 246.0 390.7 246.9 390.4 247.9 390.1 248.9 389.8 249.8 389.5 250.8 389.1 251.7 388.9 252.7 388.6 253.7 388.3 254.6 388.0 255.6 387.7 256.5 387.4 257.5 387.1 258.5 386.8 259.4 386.5 260.4 386.2 261.3 385.9 262.3 385.6 263.3 385.4 264.2 385.1 265.2 384.8 266.1 384.6 267.1 384.3 268.1 384.0 269.0 383.8 270.0 383.6 270.9 383.3 271.9 383.1 272.9 382.9 273.8 382.6 274.8 382.4 275.8 382.2 276.8 382.0 277.7 381.8 278.7 381.6 279.7 381.4 280.7 381.3 281.6 381.1 282.6 380.9 283.6 380.8 284.6 380.6 285.6 380.5 286.6 380.3 287.6 380.2 288.5 380.0 289.5 379.9 290.5 379.8 291.5 379.6 292.5 379.5 293.5 379.4 294.5 379.3 295.5 379.1 296.5 379.0 297.5 378.9 298.5 378.8 299.4 378.7 300.4 378.6 301.4 378.5 302.4 378.4 303.4 378.3 304.4 378.2 305.4 378.1 306.4 378.0 307.4 378.0 308.4 377.9 309.4 377.8 310.4 377.7 311.4 377.6 312.4 377.5 313.4 377.4 314.4 377.4 315.4 377.3 316.4 377.2 317.4 377.1 318.4 377.0 319.4 377.0 320.4 376.9 321.4 376.8 322.4 376.7 323.4 376.6 324.4 376.6 325.4 376.5 326.4 376.4 327.4 376.3 328.3 376.3 329.3 376.2 330.3 376.1 331.3 376.1 332.3 376.0 333.3 375.9 334.3 375.8 335.3 375.8 336.3 375.7 337.3 375.6 338.3 375.6 339.3 375.5 340.3 375.4 341.3 375.4 342.3 375.3 343.3 375.3 344.3 375.2 345.3 375.1 346.3 375.1 347.3 375.0 348.3 375.0 349.3 374.9 350.3 374.8 351.3 374.8 352.3 374.7 353.3 374.7 354.3 374.6 355.3 374.6 356.3 374.5 357.2 374.5 358.2 374.4 359.2 374.4 360.2 374.3 361.2 374.3 362.2 374.2 363.2 374.2 364.2 374.1 365.2 374.1 366.2 374.0 367.2 374.0 368.2 373.9 369.2 373.9 370.2 373.8 371.2 373.8 372.2 373.8 373.2 373.7 374.2 373.7 375.2 373.6 376.2 373.6 377.2 373.6 378.2 373.5 379.2 373.5 380.2 373.4 381.2 373.4 382.2 373.4 383.2 373.3 384.2 373.3 385.2 373.3 386.2 373.2 387.2 373.2 388.2 373.2 389.2 373.1 390.2 373.1 391.2 373.1 392.2 373.1 393.2 373.0 394.2 373.0 395.1 373.0 396.1 373.0 397.1 372.9 398.1 372.9 399.1 372.9 400.1 372.9 401.1 372.8 402.1 372.8 403.1 372.8 404.1 372.8 405.1 372.7 406.1 372.7 407.1 372.7 408.1 372.7 409.1 372.7 410.1 372.6 411.1 372.6 412.1 372.6 413.1 372.6 414.1 372.6 415.1 372.6 416.1 372.5 417.1 372.5 418.1 372.5 419.1 372.5 420.1 372.5 421.1 372.5 422.1 372.4 423.1 372.4 424.1 372.4 425.1 372.4 426.1 372.4 427.1 372.4 428.1 372.4 429.1 372.3 430.1 372.3 431.1 372.3 432.1 372.3 433.1 372.3 434.1 372.3 435.1 372.3 436.1 372.3 437.1 372.2 438.1 372.2 439.1 372.2 440.1 372.2 441.1 372.2 442.1 372.2 443.1 372.2 444.1 372.2 445.1 372.2 446.1 372.1 447.1 372.1 448.1 372.1 449.1 372.1 450.1 372.1 451.1 372.1 452.1 372.1 453.1 372.1 454.1 372.1 455.1 372.0 456.1 372.0 457.1 372.0 458.1 372.0 459.1 372.0 460.1 372.0 461.1 372.0 462.1 372.0 463.1 372.0 464.1 371.9 465.1 371.9 466.1 371.9 467.1 371.9 468.1 371.9 469.1 371.9 470.1 371.9 471.1 371.8 472.1 371.8 473.1 371.8 474.1 371.8 475.1 371.8 476.1 371.8 477.1 371.8 478.1 371.7 479.0 371.7 480.0 371.7 481.0 371.7 482.0 371.7 483.0 371.7 484.0 371.6 485.0 371.6 486.0 371.6 487.0 371.6 488.0 371.6 489.0 371.6 490.0 371.5 491.0 371.5 492.0 371.5 493.0 371.5 494.0 371.4 495.0 371.4 496.0 371.4 497.0 371.4 498.0 371.4 499.0 371.3 500.0 371.3 501.0 371.3 502.0 371.3 503.0 371.2 504.0 371.2 505.0 371.2 506.0 371.1 507.0 371.1 508.0 371.1" fill="none" stroke="#9D1E41" stroke-width="1.35" stroke-linejoin="round"/>
<path d="M63.2 370.7 64.2 370.7 65.2 370.7 66.2 370.8 67.1 370.8 68.1 370.8 69.1 370.8 70.1 370.8 71.1 370.8 72.1 370.8 73.1 370.9 74.1 370.9 75.1 370.9 76.1 370.9 77.1 370.9 78.1 370.9 79.1 370.9 80.1 370.9 81.1 370.9 82.2 371.0 83.2 371.0 84.2 371.0 85.2 371.0 86.2 371.1 87.2 371.1 88.2 371.2 89.2 371.2 90.2 371.3 91.2 371.4 92.2 371.4 93.2 371.5 94.2 371.6 95.2 371.7 96.2 371.8 97.2 371.9 98.2 372.1 99.2 372.2 100.2 372.3 101.2 372.5 102.1 372.7 103.1 372.8 104.1 373.0 105.1 373.2 106.1 373.5 107.0 373.7 108.0 373.9 109.0 374.2 109.9 374.5 110.9 374.8 111.8 375.1 112.8 375.4 113.7 375.7 114.7 376.1 115.6 376.4 116.5 376.8 117.4 377.2 118.3 377.6 119.2 378.0 120.1 378.5 121.0 378.9 121.9 379.4 122.7 379.9 123.6 380.4 124.4 380.9 125.2 381.5 126.1 382.1 126.9 382.6 127.7 383.2 128.5 383.8 129.2 384.5 130.0 385.1 130.7 385.7 131.5 386.4 132.2 387.1 132.9 387.8 133.6 388.5 134.3 389.2 135.0 389.9 135.7 390.7 136.4 391.4 137.0 392.2 137.6 392.9 138.3 393.7 138.9 394.5 139.5 395.2 140.1 396.0 140.7 396.8 141.3 397.6 141.8 398.5 142.4 399.3 142.9 400.1 143.5 400.9 144.0 401.8 144.5 402.6 145.0 403.5 145.5 404.3 146.0 405.2 146.5 406.1 147.0 406.9 147.5 407.8 148.0 408.7 148.4 409.6 148.9 410.5 149.3 411.4 149.8 412.3 150.2 413.2 150.7 414.1 151.1 415.0 151.5 415.9 151.9 416.8 152.3 417.7 152.7 418.6 153.2 419.5 153.6 420.5 154.0 421.4 154.4 422.3 154.7 423.2 155.1 424.2 155.5 425.1 155.9 426.0 156.3 427.0 156.7 427.9 157.1 428.8 157.4 429.7 157.8 430.7 158.2 431.6 158.6 432.5 158.9 433.5 159.3 434.4 159.7 435.3 160.1 436.3 160.4 437.2 160.8 438.1 161.2 439.0 161.5 440.0 161.9 440.9 162.3 441.8 162.6 442.7 163.0 443.7 163.4 444.6 163.7 445.5 164.1 446.5 164.5 447.4 164.8 448.3 165.2 449.2 165.5 450.2 165.9 451.1 166.3 452.0 166.6 452.9 167.0 453.9 167.3 454.8 167.7 455.7 168.1 456.7 168.4 457.6 168.8 458.5 169.1 459.4 169.5 460.4 169.8 461.3 170.2 462.2 170.6 463.1 170.9 464.1 171.3 465.0 171.6 465.9 172.0 466.9 172.3 467.8 172.7 468.7 173.1 469.7 173.4 470.6 173.8 471.5 174.1 472.4 174.5 473.4 174.8 474.3 175.2 475.2 175.6 476.2 175.9 477.1 176.3 478.0 176.6 479.0 177.0 479.9 177.4 480.8 177.7 481.8 178.1 482.7 178.4 483.6 178.8 484.6 179.2 485.5 179.5 486.4 179.9 487.4 180.3 488.3 180.6 489.2 181.0 490.1 181.4 491.1 181.7 492.0 182.1 492.9 182.5 493.9 182.8 494.8 183.2 495.7 183.6 496.7 184.0 497.6 184.3 498.5 184.7 499.4 185.1 500.4 185.4 501.3 185.8 502.2 186.2 503.1 186.6 504.1 187.0 505.0 187.3 505.9 187.7 506.9 188.1 507.8 188.5 508.7 188.9 509.6 189.3 510.5 189.7 511.5 190.0 512.4 190.4 513.3 190.8 514.2 191.2 515.2 191.6 516.1 192.0 517.0 192.4 517.9 192.8 518.8 193.2 519.7 193.6 520.6 194.1 521.5 194.5 522.4 194.9 523.3 195.3 524.2 195.8 525.1 196.2 526.0 196.6 526.9 197.1 527.8 197.5 528.7 198.0 529.6 198.4 530.5 198.9 531.3 199.4 532.2 199.9 533.1 200.4 533.9 200.9 534.8 201.4 535.6 201.9 536.5 202.4 537.3 202.9 538.2 203.4 539.0 204.0 539.8 204.5 540.7 205.1 541.5 205.6 542.3 206.2 543.1 206.8 543.9 207.4 544.7 208.0 545.5 208.6 546.2 209.2 547.0 209.9 547.8 210.5 548.5 211.2 549.3 211.8 550.0 212.5 550.8 213.2 551.5 213.9 552.2 214.6 552.9 215.3 553.7 216.0 554.4 216.7 555.1 217.5 555.8 218.2 556.4 218.9 557.1 219.7 557.8 220.5 558.5 221.2 559.1 222.0 559.8 222.8 560.4 223.5 561.1 224.3 561.7 225.1 562.3 225.9 562.9 226.7 563.5 227.5 564.2 228.3 564.8 229.1 565.4 230.0 565.9 230.8 566.5 231.6 567.1 232.4 567.7 233.3 568.2 234.1 568.8 234.9 569.3 235.8 569.9 236.6 570.4 237.4 570.9 238.3 571.5 239.2 572.0 240.0 572.5 240.9 572.9 241.7 573.4 242.6 573.9 243.5 574.3 244.4 574.8 245.3 575.2 246.2 575.7 247.1 576.1 248.0 576.5 248.9 576.8 249.8 577.2 250.7 577.6 251.6 577.9 252.6 578.3 253.5 578.6 254.5 578.9 255.4 579.3 256.4 579.6 257.3 579.9 258.3 580.1 259.2 580.4 260.2 580.7 261.1 581.0 262.1 581.2 263.1 581.5 264.0 581.7 265.0 582.0 266.0 582.2 266.9 582.5 267.9 582.7 268.9 582.9 269.8 583.1 270.8 583.4 271.8 583.6 272.8 583.8 273.7 584.0 274.7 584.2 275.7 584.4 276.7 584.6 277.7 584.7 278.6 584.9 279.6 585.1 280.6 585.3 281.6 585.4 282.6 585.6 283.5 585.7 284.5 585.9 285.5 586.1 286.5 586.2 287.5 586.3 288.5 586.5 289.5 586.6 290.5 586.8 291.4 586.9 292.4 587.0 293.4 587.1 294.4 587.2 295.4 587.4 296.4 587.5 297.4 587.6 298.4 587.7 299.4 587.8 300.4 587.9 301.4 588.0 302.4 588.1 303.4 588.2 304.4 588.3 305.3 588.4 306.3 588.5 307.3 588.6 308.3 588.6 309.3 588.7 310.3 588.8 311.3 588.9 312.3 589.0 313.3 589.0 314.3 589.1 315.3 589.2 316.3 589.3 317.3 589.3 318.3 589.4 319.3 589.5 320.3 589.5 321.3 589.6 322.3 589.7 323.3 589.7 324.3 589.8 325.3 589.9 326.3 589.9 327.3 590.0 328.3 590.0 329.3 590.1 330.3 590.2 331.3 590.2 332.3 590.3 333.3 590.3 334.3 590.4 335.3 590.5 336.3 590.5 337.3 590.6 338.3 590.6 339.3 590.7 340.3 590.8 341.3 590.8 342.3 590.9 343.3 590.9 344.3 591.0 345.3 591.0 346.3 591.1 347.3 591.2 348.3 591.2 349.3 591.3 350.3 591.3 351.3 591.4 352.3 591.4 353.3 591.5 354.3 591.5 355.3 591.6 356.3 591.7 357.2 591.7 358.2 591.8 359.2 591.8 360.2 591.9 361.2 591.9 362.2 592.0 363.2 592.0 364.2 592.1 365.2 592.1 366.2 592.2 367.2 592.2 368.2 592.3 369.2 592.3 370.2 592.4 371.2 592.4 372.2 592.4 373.2 592.5 374.2 592.5 375.2 592.6 376.2 592.6 377.2 592.7 378.2 592.7 379.2 592.7 380.2 592.8 381.2 592.8 382.2 592.9 383.2 592.9 384.2 592.9 385.2 593.0 386.2 593.0 387.1 593.1 388.1 593.1 389.1 593.1 390.1 593.2 391.1 593.2 392.1 593.2 393.1 593.3 394.1 593.3 395.1 593.3 396.1 593.3 397.1 593.4 398.1 593.4 399.1 593.4 400.1 593.5 401.1 593.5 402.1 593.5 403.1 593.5 404.1 593.6 405.1 593.6 406.1 593.6 407.1 593.6 408.1 593.7 409.1 593.7 410.1 593.7 411.1 593.7 412.1 593.7 413.1 593.8 414.1 593.8 415.1 593.8 416.1 593.8 417.1 593.8 418.1 593.9 419.1 593.9 420.1 593.9 421.1 593.9 422.1 593.9 423.1 593.9 424.1 594.0 425.1 594.0 426.1 594.0 427.1 594.0 428.1 594.0 429.1 594.0 430.1 594.0 431.1 594.1 432.1 594.1 433.1 594.1 434.1 594.1 435.1 594.1 436.1 594.1 437.1 594.1 438.1 594.1 439.1 594.2 440.1 594.2 441.1 594.2 442.1 594.2 443.1 594.2 444.1 594.2 445.1 594.2 446.1 594.2 447.1 594.2 448.1 594.2 449.1 594.3 450.1 594.3 451.1 594.3 452.1 594.3 453.1 594.3 454.1 594.3 455.1 594.3 456.1 594.3 457.1 594.3 458.1 594.3 459.1 594.4 460.1 594.4 461.1 594.4 462.1 594.4 463.1 594.4 464.1 594.4 465.1 594.4 466.1 594.4 467.1 594.4 468.1 594.4 469.1 594.5 470.1 594.5 471.1 594.5 472.1 594.5 473.1 594.5 474.1 594.5 475.1 594.5 476.1 594.5 477.1 594.6 478.1 594.6 479.1 594.6 480.0 594.6 481.0 594.6 482.0 594.6 483.0 594.6 484.0 594.6 485.0 594.7 486.0 594.7 487.0 594.7 488.0 594.7 489.0 594.7 490.0 594.7 491.0 594.8 492.0 594.8 493.0 594.8 494.0 594.8 495.0 594.8 496.0 594.8 497.0 594.9 498.0 594.9 499.0 594.9 500.0 594.9 501.0 594.9 502.0 595.0 503.0 595.0 504.0 595.0 505.0 595.0 506.0 595.1 507.0 595.1 508.0 595.1" fill="none" stroke="#40A8D6" stroke-width="1.35" stroke-linejoin="round"/>
<rect x="0.5" y="0.5" width="519" height="676" fill="none" stroke="#505050" stroke-width="1"/>
</svg>
</body></html>
